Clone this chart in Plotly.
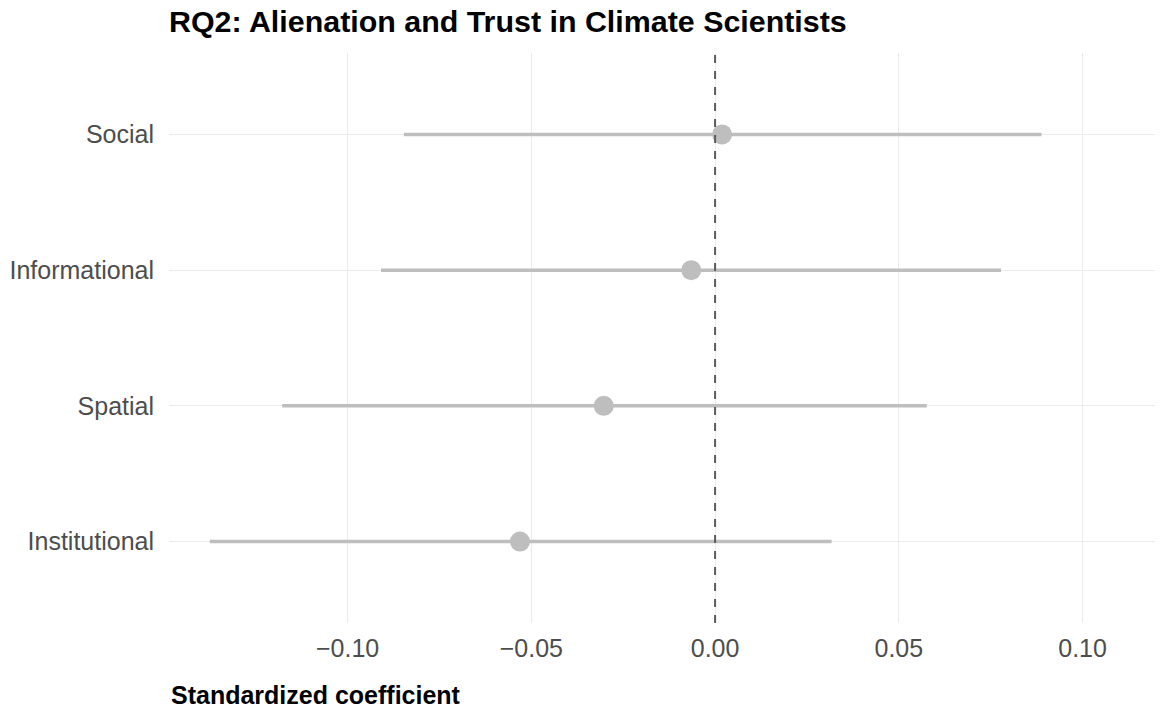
import plotly.graph_objects as go

# Data (bottom to top)
predictors = ["Institutional", "Spatial", "Informational", "Social"]
estimates = [-0.0531, -0.0303, -0.0065, 0.0019]
ci_low = [-0.1375, -0.1178, -0.0909, -0.0847]
ci_high = [0.0317, 0.0576, 0.0778, 0.0888]
x_ticks = [-0.10, -0.05, 0.00, 0.05, 0.10]
x_tick_labels = ["\u22120.10", "\u22120.05", "0.00", "0.05", "0.10"]

GREY = "#BEBEBE"
FONT = "Liberation Sans, Arial, Helvetica, sans-serif"

W, H = 1161, 708
ML, MR, MT, MB = 169, 6, 53, 85
PH = H - MT - MB

fig = go.Figure()

# CI segments
for p, lo, hi in zip(predictors, ci_low, ci_high):
    fig.add_trace(go.Scatter(
        x=[lo, hi], y=[p, p], mode="lines",
        line=dict(color=GREY, width=3.5),
        showlegend=False, hoverinfo="skip",
    ))

# Points
fig.add_trace(go.Scatter(
    x=estimates, y=predictors, mode="markers",
    marker=dict(color=GREY, size=20, line=dict(width=0)),
    showlegend=False,
))

# zero reference line
fig.add_shape(type="line", xref="x", yref="paper", x0=0, x1=0, y0=0, y1=1,
              line=dict(color="#5A5A5A", width=2, dash="8px,8px"), layer="above")

fig.update_layout(
    width=W, height=H,
    margin=dict(l=ML, r=MR, t=MT, b=MB),
    paper_bgcolor="white", plot_bgcolor="white",
    font=dict(family=FONT, color="#4D4D4D", size=25),
    title=dict(
        text="<b>RQ2: Alienation and Trust in Climate Scientists</b>",
        font=dict(family=FONT, size=30.4, color="black"),
        xref="paper", x=0, xanchor="left",
        yref="container", y=1 - 21 / H, yanchor="middle",
    ),
    xaxis=dict(
        range=[-0.1486, 0.1197],
        tickmode="array", tickvals=x_ticks, ticktext=x_tick_labels,
        showgrid=True, gridcolor="#EBEBEB", gridwidth=1.2,
        zeroline=False, showline=False, automargin=False,
        ticks="", ticklabelstandoff=8,
        tickfont=dict(size=25, color="#4D4D4D"),
    ),
    yaxis=dict(
        type="category", categoryorder="array", categoryarray=predictors,
        range=[-0.6, 3.6],
        showgrid=True, gridcolor="#EBEBEB", gridwidth=1.2,
        zeroline=False, showline=False, automargin=False,
        ticks="outside", ticklen=9, tickcolor="rgba(0,0,0,0)",
        tickfont=dict(size=25, color="#4D4D4D"),
    ),
    annotations=[dict(
        text="<b>Standardized coefficient</b>",
        xref="paper", x=0, xanchor="left",
        yref="paper", y=-(694.5 - 623) / PH, yanchor="middle",
        showarrow=False, font=dict(family=FONT, size=25, color="black"),
    )],
)

fig.write_html(
    "out.html",
    config={"displayModeBar": False},
    post_script="document.body.style.margin='0';document.body.style.overflow='hidden';",
)
